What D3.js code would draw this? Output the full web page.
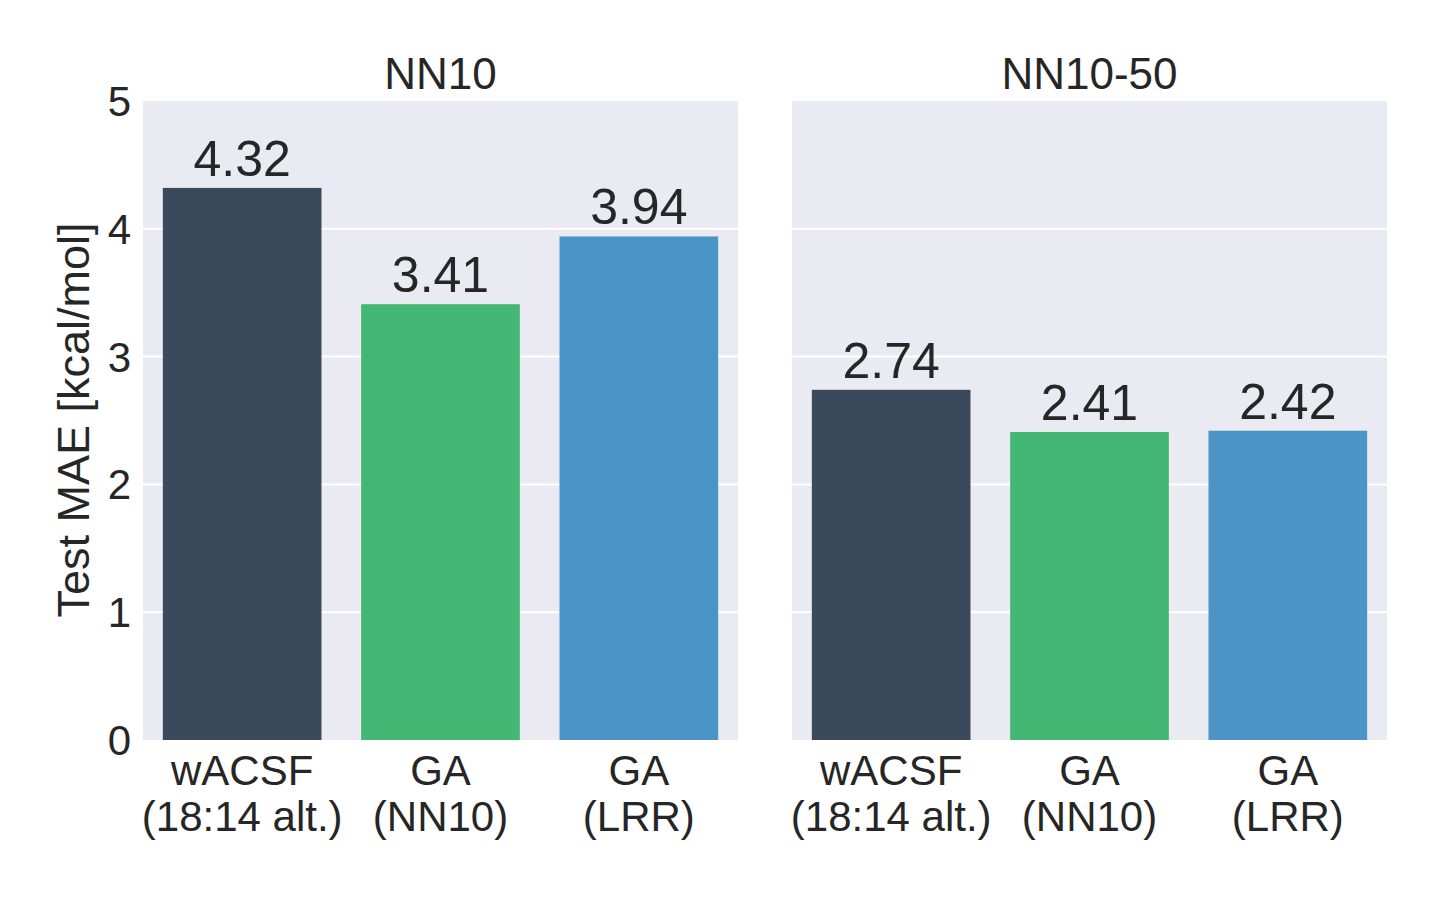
<!DOCTYPE html>
<html>
<head>
<meta charset="utf-8">
<script src="https://cdn.jsdelivr.net/npm/d3@7"></script>
<style>
  body { margin: 0; background: #fff; }
  text { font-family: "Liberation Sans", Arial, sans-serif; fill: #262626; }
</style>
</head>
<body>
<svg id="chart" width="1440" height="900"></svg>
<script>
// Data
const panels = ["NN10", "NN10-50"];
const categories = ["wACSF\n(18:14 alt.)", "GA\n(NN10)", "GA\n(LRR)"];
const valuesNN10 = [4.32, 3.41, 3.94];
const valuesNN1050 = [2.74, 2.41, 2.42];
const yTicks = [0, 1, 2, 3, 4, 5];
const colors = ["#3a4a5c", "#44b775", "#4a94c6"];

const svg = d3.select("#chart");

// Layout
const plotTop = 101, plotBottom = 740;
const panelX = [143, 792];
const panelW = 595;

let scaleY = d3.scaleLinear()
    .domain([0, 5])
    .range([plotBottom, plotTop]);

const allValues = [valuesNN10, valuesNN1050];

panels.forEach(function(name, p) {
    let g = svg.append("g")
        .attr("transform", "translate(" + panelX[p] + ",0)");

    let scaleX = d3.scaleBand()
        .domain(categories)
        .range([0, panelW])
        .paddingInner(0.2)
        .paddingOuter(0.1);

    // Background
    g.append("rect")
        .attr("x", 0)
        .attr("y", plotTop)
        .attr("width", panelW)
        .attr("height", plotBottom - plotTop)
        .style("fill", "#eaeaf2");

    // Grid lines
    g.selectAll(".grid")
        .data(yTicks.slice(1, -1))
        .enter().append("line")
        .attr("x1", 0)
        .attr("x2", panelW)
        .attr("y1", d => scaleY(d))
        .attr("y2", d => scaleY(d))
        .style("stroke", "#fff")
        .style("stroke-width", 2);

    let data = categories.map((c, i) => ({ cat: c, val: allValues[p][i], i: i }));

    // Bars
    g.selectAll(".bar")
        .data(data)
        .enter().append("rect")
        .attr("x", d => scaleX(d.cat))
        .attr("y", d => scaleY(d.val))
        .attr("width", scaleX.bandwidth())
        .attr("height", d => scaleY(0) - scaleY(d.val))
        .style("fill", d => colors[d.i]);

    // Value labels
    g.selectAll(".val")
        .data(data)
        .enter().append("text")
        .attr("x", d => scaleX(d.cat) + scaleX.bandwidth() / 2)
        .attr("y", d => scaleY(d.val) - 12)
        .attr("text-anchor", "middle")
        .style("font-size", "50px")
        .text(d => d.val.toFixed(2));

    // Category labels
    data.forEach(function(d) {
        let lines = d.cat.split("\n");
        let t = g.append("text")
            .attr("text-anchor", "middle")
            .style("font-size", "42px");
        lines.forEach(function(l, k) {
            t.append("tspan")
                .attr("x", scaleX(d.cat) + scaleX.bandwidth() / 2)
                .attr("y", 785 + k * 46)
                .text(l);
        });
    });

    // Panel title
    g.append("text")
        .attr("x", panelW / 2)
        .attr("y", 89)
        .attr("text-anchor", "middle")
        .style("font-size", "44px")
        .text(name);
});

// Y axis tick labels (left panel only)
svg.selectAll(".ytick")
    .data(yTicks)
    .enter().append("text")
    .attr("x", 131)
    .attr("y", d => scaleY(d) + 15)
    .attr("text-anchor", "end")
    .style("font-size", "42px")
    .text(d => d);

// Y axis title
svg.append("text")
    .attr("transform", "translate(89," + 420 + ") rotate(-90)")
    .attr("text-anchor", "middle")
    .style("font-size", "45px")
    .text("Test MAE [kcal/mol]");
</script>
</body>
</html>
